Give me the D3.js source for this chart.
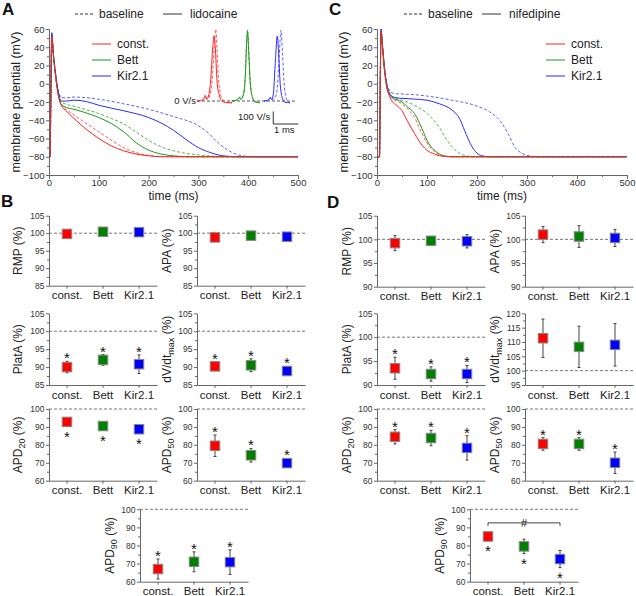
<!DOCTYPE html>
<html>
<head>
<meta charset="utf-8">
<script src="https://cdn.jsdelivr.net/npm/d3@7"></script>
<style>
body { margin: 0; background: #fff; }
svg { font-family: "Liberation Sans", Arial, sans-serif; }
</style>
</head>
<body>
<div id="chart"></div>
<script>
// groups shared by every panel
var groups = ["const.", "Bett", "Kir2.1"];
var boxColors = ["#ff0000", "#008000", "#0000ff"];
var lineColors = ["#ff1f1f", "#1e961e", "#2b2bff"];

var timeTicks = [0, 100, 200, 300, 400, 500];
var vmTicks = [-100, -80, -60, -40, -20, 0, 20, 40, 60];

// action potentials, [time (ms), membrane potential (mV)] - lidocaine
var lidoConstBase = [[0,-80],[2,-80],[4,0],[5.5,52],[9,30],[14,5],[19,-12],[25,-22],[35,-28],[50,-34],[75,-43.5],[100,-52.6],[125,-61.7],[150,-70],[175,-75.5],[200,-78.5],[230,-79.8],[260,-80],[500,-80]];
var lidoConstDrug = [[0,-80],[2,-80],[4,0],[5.5,52],[9,30],[14,5],[19,-14],[25,-24],[35,-30],[50,-38],[75,-50],[100,-60],[125,-68],[150,-73.5],[175,-77],[200,-79],[230,-80],[500,-80]];
var lidoBettBase = [[0,-80],[2,-80],[4,0],[5.5,52],[9,30],[14,5],[19,-12],[25,-20],[35,-22.5],[50,-24.7],[75,-28.5],[100,-32.6],[125,-38],[150,-44],[175,-53],[200,-62],[225,-69],[250,-73.4],[275,-76.3],[300,-78],[340,-79.7],[380,-80],[500,-80]];
var lidoBettDrug = [[0,-80],[2,-80],[4,0],[5.5,52],[9,30],[14,5],[19,-13],[25,-23],[35,-26],[50,-28],[75,-32],[100,-37],[125,-43.5],[150,-52.6],[175,-64.6],[200,-72.7],[225,-77],[250,-79],[280,-80],[500,-80]];
var lidoKirBase = [[0,-80],[2,-80],[4,0],[5.5,55],[9,32],[14,8],[19,-8],[25,-15],[35,-15.5],[50,-14.6],[75,-15.3],[100,-17],[150,-22],[200,-28],[250,-36],[300,-46],[320,-54],[340,-65],[360,-73],[380,-78],[400,-79.7],[420,-80],[500,-80]];
var lidoKirDrug = [[0,-80],[2,-80],[4,0],[5.5,56],[9,32],[14,8],[19,-10],[25,-19],[35,-19],[50,-18],[75,-19.5],[100,-23.6],[150,-29.6],[200,-37],[225,-43],[250,-51],[275,-61],[300,-70],[325,-75.6],[350,-79],[380,-80],[500,-80]];

// action potentials - nifedipine
var nifConstBase = [[0,-80],[5,-80],[6.5,0],[8,58],[11,40],[15,15],[20,-5],[25,-12],[30,-16],[40,-19],[50,-22],[60,-27],[75,-37],[90,-54.5],[100,-64.7],[115,-74.5],[125,-78],[140,-79.8],[150,-80],[500,-80]];
var nifConstDrug = [[0,-80],[5,-80],[6.5,0],[8,58],[11,40],[15,15],[20,-5],[25,-14],[30,-19],[40,-24],[50,-29.6],[60,-40],[75,-54.5],[90,-67.3],[100,-73],[115,-77],[125,-79],[150,-80],[500,-80]];
var nifBettBase = [[0,-80],[5,-80],[6.5,0],[8,58],[11,40],[15,15],[20,-4],[25,-11],[30,-14],[40,-16.5],[50,-18],[75,-23.5],[100,-32.6],[125,-48],[140,-62],[150,-69],[165,-76.3],[175,-78.5],[190,-79.8],[200,-80],[500,-80]];
var nifBettDrug = [[0,-80],[5,-80],[6.5,0],[8,58],[11,40],[15,15],[20,-4],[25,-11],[30,-15],[40,-17.5],[50,-20],[60,-25],[75,-32.6],[90,-49],[100,-62],[115,-73],[125,-77],[140,-79.5],[150,-80],[500,-80]];
var nifKirBase = [[0,-80],[5,-80],[6.5,0],[8,60],[11,42],[15,18],[20,0],[25,-7],[30,-10],[40,-11],[50,-11.3],[75,-12],[100,-13.5],[150,-18],[200,-24.5],[225,-30.7],[250,-43.5],[262,-54.5],[275,-69],[290,-76.3],[300,-78.5],[320,-79.8],[330,-80],[500,-80]];
var nifKirDrug = [[0,-80],[5,-80],[6.5,0],[8,60],[11,42],[15,18],[20,-2],[25,-10],[30,-14],[40,-15.5],[50,-16],[75,-16.8],[100,-18],[125,-22],[150,-28.8],[165,-38],[175,-51],[190,-69],[200,-76],[210,-79],[225,-80],[500,-80]];

// upstroke velocity inset (panel A), [time (ms), dV/dt (V/s)]
var insetConstBase = [[0,0],[0.15,2],[0.3,15],[0.36,30],[0.42,12],[0.5,40],[0.6,150],[0.68,400],[0.75,575],[0.8,420],[0.86,180],[0.95,50],[1.05,5],[1.2,-12],[1.4,-15]];
var insetConstDrug = [[0,0],[0.15,3],[0.28,20],[0.33,45],[0.38,15],[0.46,40],[0.56,200],[0.63,430],[0.68,520],[0.74,400],[0.8,160],[0.9,40],[1.0,0],[1.15,-12],[1.4,-15]];
var insetBettBase = [[1.39,0],[1.5,3],[1.62,12],[1.7,35],[1.75,15],[1.85,50],[1.93,200],[1.98,450],[2.02,570],[2.07,400],[2.13,150],[2.22,30],[2.32,-5],[2.52,-14]];
var insetBettDrug = [[1.39,0],[1.5,3],[1.62,10],[1.7,30],[1.75,12],[1.85,45],[1.93,190],[1.98,440],[2.02,560],[2.07,390],[2.13,145],[2.22,28],[2.32,-6],[2.52,-14]];
var insetKirBase = [[2.68,0],[2.8,3],[2.9,15],[2.95,30],[3.0,12],[3.1,20],[3.2,80],[3.28,330],[3.36,567],[3.42,380],[3.48,150],[3.56,30],[3.64,-8],[3.72,-14]];
var insetKirDrug = [[2.68,0],[2.8,3],[2.88,15],[2.93,30],[2.98,12],[3.05,50],[3.13,300],[3.21,520],[3.27,360],[3.33,130],[3.42,20],[3.52,-10],[3.72,-14]];

// summary, % of baseline: mean and error - lidocaine (B)
var rmpLido = [99.8, 100.4, 100.3],   rmpLidoErr = [0.4, 0.4, 0.4];
var apaLido = [98.8, 99.3, 99.0],     apaLidoErr = [0.4, 0.4, 0.4];
var platLido = [90.0, 92.0, 90.8],    platLidoErr = [1.6, 1.5, 2.6];
var dvdtLido = [90.2, 90.5, 88.9],    dvdtLidoErr = [1.0, 1.8, 0.6];
var apd20Lido = [92.8, 90.5, 88.7],   apd20LidoErr = [1.2, 1.5, 1.0];
var apd50Lido = [79.5, 74.2, 69.8],   apd50LidoErr = [6.0, 3.8, 1.5];
var apd90Lido = [67.0, 71.0, 70.8],   apd90LidoErr = [5.5, 5.5, 6.8];

// summary - nifedipine (D)
var rmpNif = [99.2, 99.7, 99.6],      rmpNifErr = [1.6, 0.9, 1.4];
var apaNif = [101.0, 100.6, 100.3],   apaNifErr = [1.7, 2.3, 1.8];
var platNif = [93.5, 92.3, 92.3],     platNifErr = [2.3, 1.5, 1.8];
var dvdtNif = [111.3, 108.3, 109.0],  dvdtNifErr = [6.7, 7.2, 7.4];
var apd20Nif = [84.5, 83.8, 78.3],    apd20NifErr = [4.0, 4.3, 6.8];
var apd50Nif = [80.5, 80.5, 70.0],    apd50NifErr = [3.5, 3.5, 6.0];
var apd90Nif = [85.0, 79.5, 72.5],    apd90NifErr = [2.5, 4.0, 4.7];
var apd90NifBracket = 92.5;

var svg = d3.select("#chart")
  .append("svg")
    .attr("width", 636)
    .attr("height", 596);

function styleAxis(sel, fs) {
  sel.attr("font-family", null).attr("font-size", fs);
  sel.select(".domain").attr("stroke", "#666");
  sel.selectAll(".tick line").attr("stroke", "#666");
  sel.selectAll(".tick text").attr("fill", "#333");
}

function letter(txt, x, y) {
  svg.append("text").attr("x", x).attr("y", y)
    .attr("font-size", 17).attr("font-weight", "bold").attr("fill", "#111")
    .text(txt);
}

// ---------- action potential panels ----------
function apPanel(x0, x1, traces, drug, lg) {
  var x = d3.scaleLinear().domain([0, 500]).range([x0, x1]);
  var y = d3.scaleLinear().domain([-100, 60]).range([175, 29]);
  var g = svg.append("g");

  g.append("g").attr("transform", "translate(0,175)")
    .call(d3.axisBottom(x).tickValues(d3.range(50, 500, 100)).tickSize(2).tickSizeOuter(0).tickFormat(""))
    .call(styleAxis, 9.5);
  g.append("g").attr("transform", "translate(0,175)")
    .call(d3.axisBottom(x).tickValues(timeTicks).tickSize(4).tickPadding(0.5).tickSizeOuter(0))
    .call(styleAxis, 9.5);
  g.append("g").attr("transform", "translate(" + x0 + ",0)")
    .call(d3.axisLeft(y).tickValues(d3.range(-90, 60, 20)).tickSize(2).tickSizeOuter(0).tickFormat(""))
    .call(styleAxis, 9.5);
  g.append("g").attr("transform", "translate(" + x0 + ",0)")
    .call(d3.axisLeft(y).tickValues(vmTicks).tickSize(3).tickPadding(1.5).tickSizeOuter(0))
    .call(styleAxis, 9.5);

  g.append("text")
    .attr("transform", "translate(" + (x0 - 29) + ",102) rotate(-90)")
    .attr("text-anchor", "middle").attr("font-size", 12.5).attr("fill", "#222")
    .text("membrane potential (mV)");
  g.append("text")
    .attr("x", (x0 + x1) / 2).attr("y", 199.5)
    .attr("text-anchor", "middle").attr("font-size", 12).attr("fill", "#222")
    .text("time (ms)");

  var line = d3.line()
    .x(function(d) { return x(d[0]); })
    .y(function(d) { return y(d[1]); })
    .curve(d3.curveMonotoneX);

  traces.forEach(function(t) {
    g.append("path")
      .attr("d", line(t.data))
      .attr("fill", "none")
      .attr("stroke", lineColors[t.c])
      .attr("stroke-width", 1)
      .attr("stroke-opacity", t.dash ? 0.75 : 1)
      .attr("stroke-dasharray", t.dash ? "3,2" : null);
  });

  // top legend
  var top = svg.append("g").attr("fill", "#222").attr("font-size", 12);
  top.append("line").attr("x1", lg.d0).attr("x2", lg.d0 + 19).attr("y1", 14).attr("y2", 14)
    .attr("stroke", "#333").attr("stroke-dasharray", "3,2");
  top.append("text").attr("x", lg.d0 + 24).attr("y", 18.3).text("baseline");
  top.append("line").attr("x1", lg.s0).attr("x2", lg.s0 + 19).attr("y1", 14).attr("y2", 14)
    .attr("stroke", "#333");
  top.append("text").attr("x", lg.s0 + 27).attr("y", 18.3).text(drug);

  // colour legend
  groups.forEach(function(name, i) {
    var yy = 44 + i * 16;
    g.append("line").attr("x1", lg.c0).attr("x2", lg.c0 + 19).attr("y1", yy).attr("y2", yy)
      .attr("stroke", lineColors[i]);
    g.append("text").attr("x", lg.c0 + 25).attr("y", yy + 4.3)
      .attr("font-size", 12).attr("fill", "#222").text(name);
  });
  return g;
}

apPanel(49, 298, [
  {data: lidoConstBase, c: 0, dash: true}, {data: lidoBettBase, c: 1, dash: true}, {data: lidoKirBase, c: 2, dash: true},
  {data: lidoKirDrug, c: 2}, {data: lidoBettDrug, c: 1}, {data: lidoConstDrug, c: 0}
], "lidocaine", {d0: 75, s0: 163, c0: 92});

apPanel(377, 627, [
  {data: nifKirBase, c: 2, dash: true}, {data: nifBettBase, c: 1, dash: true}, {data: nifConstBase, c: 0, dash: true},
  {data: nifKirDrug, c: 2}, {data: nifBettDrug, c: 1}, {data: nifConstDrug, c: 0}
], "nifedipine", {d0: 404, s0: 482, c0: 546});

// ---------- dV/dt inset in A ----------
var ix = d3.scaleLinear().domain([0, 4]).range([197, 297]);
var iy = d3.scaleLinear().domain([0, 100]).range([101, 88.5]);
var inset = svg.append("g");
inset.append("line").attr("x1", ix(0)).attr("x2", ix(4)).attr("y1", iy(0)).attr("y2", iy(0))
  .attr("stroke", "#555").attr("stroke-dasharray", "3,2");
inset.append("text").attr("x", ix(0) - 1).attr("y", iy(0) + 3.2)
  .attr("text-anchor", "end").attr("font-size", 9.5).attr("fill", "#222").text("0 V/s");
var iline = d3.line()
  .x(function(d) { return ix(d[0]); })
  .y(function(d) { return iy(d[1]); })
  .curve(d3.curveMonotoneX);
[
  {data: insetConstBase, c: 0, dash: true}, {data: insetConstDrug, c: 0},
  {data: insetBettBase, c: 1, dash: true}, {data: insetBettDrug, c: 1},
  {data: insetKirBase, c: 2, dash: true}, {data: insetKirDrug, c: 2}
].forEach(function(t) {
  inset.append("path").attr("d", iline(t.data))
    .attr("fill", "none").attr("stroke", lineColors[t.c]).attr("stroke-width", 1)
    .attr("stroke-opacity", t.dash ? 0.75 : 1)
    .attr("stroke-dasharray", t.dash ? "3,2" : null);
});
// scale bar: 100 V/s, 1 ms
var barX = ix(3.05), barY = 124;
inset.append("path")
  .attr("d", "M" + barX + "," + (barY - (iy(0) - iy(100))) + "V" + barY + "H" + (barX + ix(1) - ix(0)))
  .attr("fill", "none").attr("stroke", "#333");
inset.append("text").attr("x", barX - 3).attr("y", 120).attr("text-anchor", "end")
  .attr("font-size", 9.5).attr("fill", "#222").text("100 V/s");
inset.append("text").attr("x", barX + 11).attr("y", 133).attr("text-anchor", "middle")
  .attr("font-size", 9.5).attr("fill", "#222").text("1 ms");

// ---------- summary panels ----------
function dotPanel(o) {
  var w = 108;
  var x = d3.scaleBand().domain(groups).range([o.ax, o.ax + w]);
  var y = d3.scaleLinear().domain(o.dom).range(o.r);
  var g = svg.append("g");

  g.append("line").attr("x1", o.ax).attr("x2", o.ax + w).attr("y1", y(100)).attr("y2", y(100))
    .attr("stroke", "#777").attr("stroke-dasharray", "3,2");

  g.append("g").attr("transform", "translate(" + o.ax + ",0)")
    .call(d3.axisLeft(y).tickValues(o.minor).tickSize(2).tickSizeOuter(0).tickFormat(""))
    .call(styleAxis, 8.5);
  g.append("g").attr("transform", "translate(" + o.ax + ",0)")
    .call(d3.axisLeft(y).tickValues(o.ticks).tickSize(3).tickPadding(1.5).tickSizeOuter(0))
    .call(styleAxis, 8.5);
  g.append("g").attr("transform", "translate(0," + o.r[0] + ")")
    .call(d3.axisBottom(x).tickSize(3).tickPadding(2.6).tickSizeOuter(0))
    .call(styleAxis, 11.5)
    .selectAll(".tick text").attr("fill", "#222");

  var t = g.append("text")
    .attr("transform", "translate(" + o.tx + "," + ((o.r[0] + o.r[1]) / 2) + ") rotate(-90)")
    .attr("text-anchor", "middle").attr("font-size", 12).attr("fill", "#222");
  o.title.forEach(function(p) {
    if (p[1] == "sub") {
      t.append("tspan").attr("font-size", 9).attr("dy", 3).text(p[0]);
    } else {
      t.append("tspan").attr("dy", p[1] == "after" ? -3 : 0).text(p[0]);
    }
  });

  o.vals.forEach(function(v, i) {
    var cx = x(groups[i]) + x.bandwidth() / 2;
    var e = o.errs[i];
    g.append("line").attr("x1", cx).attr("x2", cx).attr("y1", y(v - e)).attr("y2", y(v + e))
      .attr("stroke", "#444");
    [v - e, v + e].forEach(function(ev) {
      g.append("line").attr("x1", cx - 1.5).attr("x2", cx + 1.5).attr("y1", y(ev)).attr("y2", y(ev))
        .attr("stroke", "#444");
    });
    g.append("rect").attr("x", cx - 4.75).attr("y", y(v) - 4.75).attr("width", 9.5).attr("height", 9.5)
      .attr("fill", boxColors[i]).attr("stroke", "#888").attr("stroke-width", 1);
    if (o.star == "up") {
      var topY = Math.min(y(v + e), y(v) - 4.75);
      g.append("text").attr("x", cx).attr("y", topY + 2).attr("text-anchor", "middle")
        .attr("font-size", 15).attr("fill", "#111").text("*");
    } else if (o.star == "down") {
      var botY = Math.max(y(v - e), y(v) + 4.75);
      g.append("text").attr("x", cx).attr("y", botY + 15).attr("text-anchor", "middle")
        .attr("font-size", 15).attr("fill", "#111").text("*");
    }
  });
  return {g: g, x: x, y: y};
}

var t85 = [85, 90, 95, 100, 105], m85 = [87.5, 92.5, 97.5, 102.5];
var t90 = [90, 95, 100, 105], m90 = [92.5, 97.5, 102.5];
var t60 = [60, 70, 80, 90, 100], m60 = [65, 75, 85, 95];
var tDv = [95, 100, 105, 110, 115, 120], mDv = [97.5, 102.5, 107.5, 112.5, 117.5];

var rmpT = [["RMP (%)", ""]], apaT = [["APA (%)", ""]], platT = [["PlatA (%)", ""]];
var dvT = [["dV/dt", ""], ["max", "sub"], [" (%)", "after"]];
function apdT(n) { return [["APD", ""], [n, "sub"], [" (%)", "after"]]; }

// B: lidocaine
dotPanel({ax: 49, tx: 22, dom: [85, 105], r: [285.7, 215.7], ticks: t85, minor: m85, vals: rmpLido, errs: rmpLidoErr, title: rmpT});
dotPanel({ax: 197, tx: 171, dom: [85, 105], r: [285.7, 215.7], ticks: t85, minor: m85, vals: apaLido, errs: apaLidoErr, title: apaT});
dotPanel({ax: 49, tx: 22, dom: [85, 105], r: [385, 313.3], ticks: t85, minor: m85, vals: platLido, errs: platLidoErr, title: platT, star: "up"});
dotPanel({ax: 197, tx: 171, dom: [85, 105], r: [385, 313.3], ticks: t85, minor: m85, vals: dvdtLido, errs: dvdtLidoErr, title: dvT, star: "up"});
dotPanel({ax: 49, tx: 22, dom: [60, 100], r: [480.7, 409], ticks: t60, minor: m60, vals: apd20Lido, errs: apd20LidoErr, title: apdT("20"), star: "down"});
dotPanel({ax: 197, tx: 171, dom: [60, 100], r: [480.7, 409], ticks: t60, minor: m60, vals: apd50Lido, errs: apd50LidoErr, title: apdT("50"), star: "up"});
dotPanel({ax: 140, tx: 114, dom: [60, 100], r: [581.7, 509.3], ticks: t60, minor: m60, vals: apd90Lido, errs: apd90LidoErr, title: apdT("90"), star: "up"});

// D: nifedipine
dotPanel({ax: 377, tx: 351, dom: [90, 105], r: [286.7, 215.7], ticks: t90, minor: m90, vals: rmpNif, errs: rmpNifErr, title: rmpT});
dotPanel({ax: 525, tx: 499, dom: [90, 105], r: [286.7, 215.7], ticks: t90, minor: m90, vals: apaNif, errs: apaNifErr, title: apaT});
dotPanel({ax: 377, tx: 351, dom: [90, 105], r: [385, 313.3], ticks: t90, minor: m90, vals: platNif, errs: platNifErr, title: platT, star: "up"});
dotPanel({ax: 525, tx: 499, dom: [95, 120], r: [385, 313.3], ticks: tDv, minor: mDv, vals: dvdtNif, errs: dvdtNifErr, title: dvT});
dotPanel({ax: 377, tx: 351, dom: [60, 100], r: [480.7, 409], ticks: t60, minor: m60, vals: apd20Nif, errs: apd20NifErr, title: apdT("20"), star: "up"});
dotPanel({ax: 525, tx: 499, dom: [60, 100], r: [480.7, 409], ticks: t60, minor: m60, vals: apd50Nif, errs: apd50NifErr, title: apdT("50"), star: "up"});
var p90 = dotPanel({ax: 470, tx: 444, dom: [60, 100], r: [581.7, 509.3], ticks: t60, minor: m60, vals: apd90Nif, errs: apd90NifErr, title: apdT("90"), star: "down"});

// const. vs Kir2.1 bracket
var bx0 = p90.x("const.") + p90.x.bandwidth() / 2,
    bx1 = p90.x("Kir2.1") + p90.x.bandwidth() / 2,
    by = p90.y(apd90NifBracket);
p90.g.append("path")
  .attr("d", "M" + bx0 + "," + (by + 3) + "V" + by + "H" + bx1 + "V" + (by + 3))
  .attr("fill", "none").attr("stroke", "#444");
p90.g.append("text").attr("x", (bx0 + bx1) / 2).attr("y", by + 4)
  .attr("text-anchor", "middle").attr("font-size", 11).attr("fill", "#222").text("#");

letter("A", 2, 15);
letter("C", 329, 15);
letter("B", 1, 207);
letter("D", 327, 208);
</script>
</body>
</html>
